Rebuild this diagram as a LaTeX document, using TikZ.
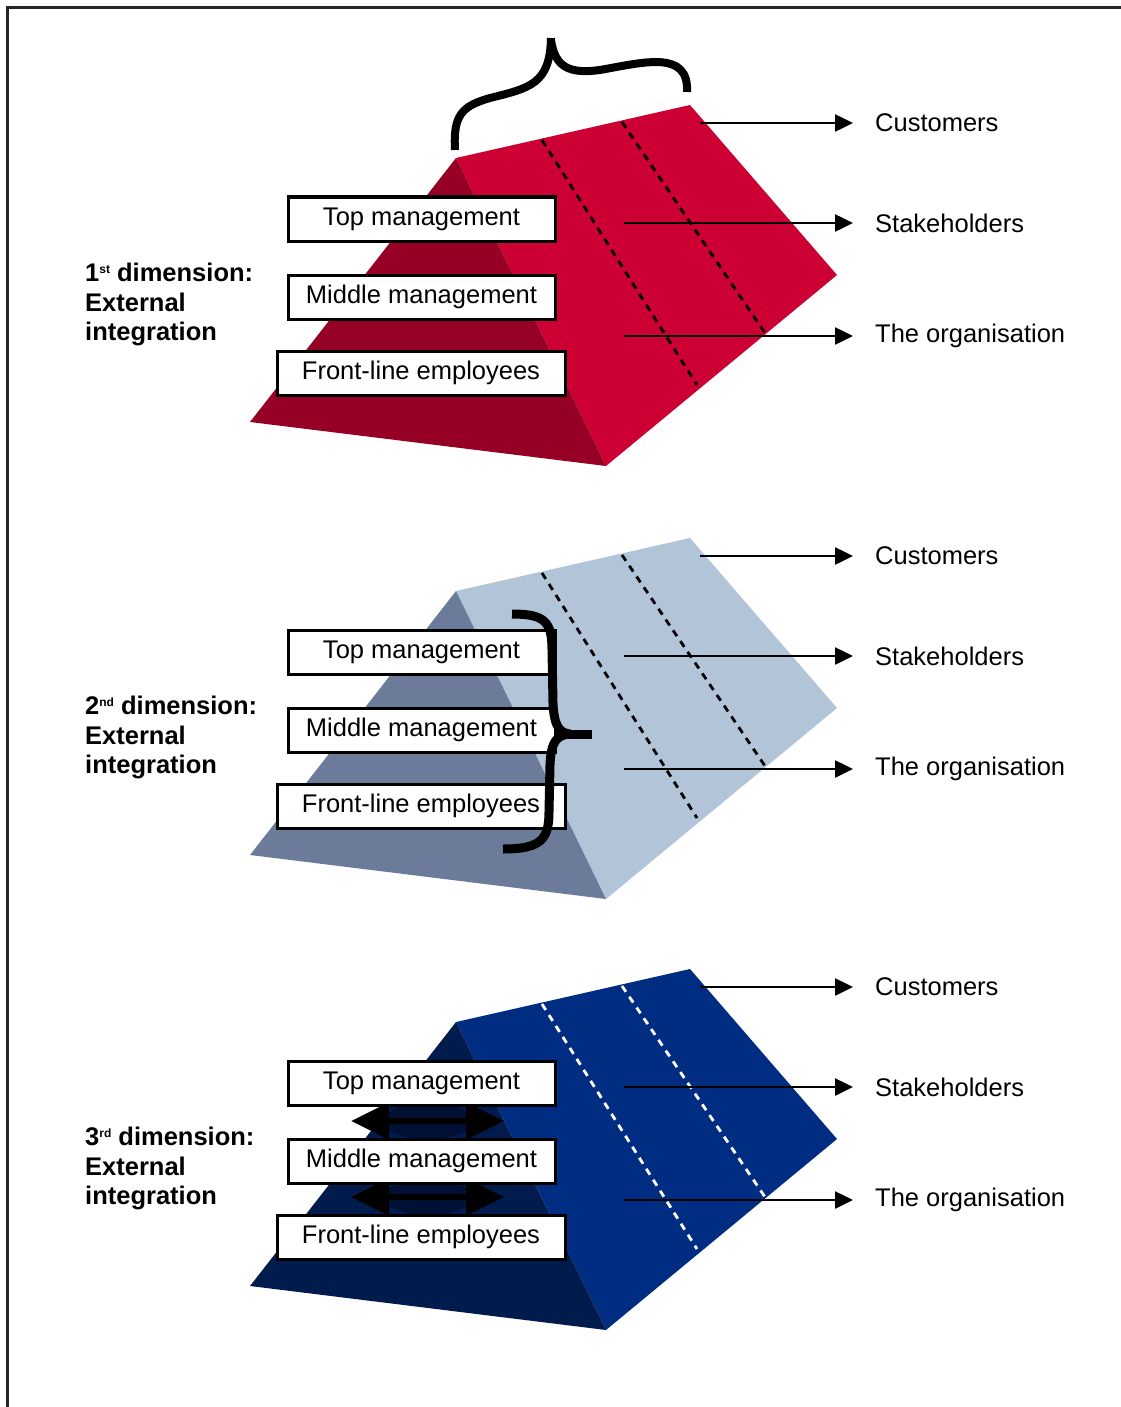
\documentclass[tikz,border=0pt]{standalone}
\usepackage{fontspec}
\setmainfont{Liberation Sans}
\usetikzlibrary{arrows.meta,calc}

\definecolor{redside}{RGB}{204,0,51}
\definecolor{redfront}{RGB}{150,0,36}
\definecolor{greyside}{RGB}{178,196,215}
\definecolor{greyfront}{RGB}{108,123,153}
\definecolor{navyside}{RGB}{0,45,130}
\definecolor{navyfront}{RGB}{0,27,76}
\definecolor{navydeep}{RGB}{0,16,52}

\tikzset{
  lvlbox/.style={draw=black, line width=3pt, fill=white, minimum height=44pt,
    inner sep=0pt, font=\fontsize{25.5}{29}\selectfont},
  outlabel/.style={anchor=west, inner sep=0pt, font=\fontsize{25.5}{29}\selectfont},
  dimlabel/.style={anchor=north west, inner sep=0pt, align=left,
    font=\bfseries\fontsize{25.5}{29.5}\selectfont},
  ridgeline/.style={line width=2.8pt, dash pattern=on 7pt off 6pt},
  outarrow/.style={line width=2.5pt, -{Triangle[length=18pt,width=17pt]}, shorten >=22pt},
  bracestroke/.style={line width=8pt, line cap=butt, line join=round},
  bothways/.style={line width=6pt, {Triangle[length=38pt,width=36pt]}-{Triangle[length=38pt,width=36pt]}},
  frameline/.style={line width=3pt, black!85},
}

\newcommand{\sups}[1]{\raisebox{8pt}{\fontsize{12}{12}\selectfont #1}}

% one prism with its three levels and the three outward arrows
% #1 vertical offset, #2 name prefix, #3 front colour, #4 side colour,
% #5 colour of the dashed lines, #6 ordinal of the dimension
\newcommand{\prismpanel}[6]{%
\begin{scope}[yshift=-#1pt]
  \fill[#4] (456,158) -- (690,105) -- (837,275) -- (606,466) -- cycle;
  \fill[#3] (456,158) -- (250,422) -- (606,466) -- cycle;
  \draw[ridgeline,#5] (542,140) -- (697,385);
  \draw[ridgeline,#5] (622,122) -- (765,333);
  \node[outlabel] (#2cust)  at (875,123) {Customers};
  \node[outlabel] (#2stake) at (875,223) {Stakeholders};
  \node[outlabel] (#2org)   at (875,336) {The organisation};
  \coordinate (#2cs) at (700,123);
  \coordinate (#2ss) at (624,223);
  \coordinate (#2os) at (624,336);
  \draw[outarrow] (#2cs) -- (#2cs -| #2cust.west);
  \draw[outarrow] (#2ss) -- (#2ss -| #2stake.west);
  \draw[outarrow] (#2os) -- (#2os -| #2org.west);
  \node[dimlabel] (#2dim) at (85,263) {#6 dimension:\\External\\integration};
\end{scope}}

\newcommand{\levelboxes}[2]{% #1 vertical offset, #2 name prefix
\begin{scope}[yshift=-#1pt]
  \node[lvlbox, minimum width=267pt] (#2top)   at (421.5,219) {Top management};
  \node[lvlbox, minimum width=267pt] (#2mid)   at (421.5,297) {Middle management};
  \node[lvlbox, minimum width=288pt] (#2front) at (421,373)   {Front-line employees};
\end{scope}}

\begin{document}
\begin{tikzpicture}[x=1pt,y=-1pt]
\useasboundingbox (0,0) rectangle (1120,1407);
\fill[white] (0,0) rectangle (1120,1407);
\draw[frameline] (7,1450) -- (7,8) -- (1160,8);

% first dimension
\prismpanel{0}{a}{redfront}{redside}{black}{1\sups{st}}
\levelboxes{0}{a}
\draw[bracestroke] (455,150) .. controls (453,115) and (462,106) .. (490,98)
  .. controls (530,88) and (550,84) .. (551,38);
\draw[bracestroke] (551,40) .. controls (555,68) and (570,74) .. (600,70)
  .. controls (645,62) and (689,50) .. (687,92);

% second dimension
\prismpanel{433}{b}{greyfront}{greyside}{black}{2\sups{nd}}
\levelboxes{433}{b}
\draw[bracestroke, line width=9pt] (512,614) .. controls (545,614) and (552,622) .. (552,650)
  -- (553,703) .. controls (554,727) and (560,733) .. (570,734);
\draw[bracestroke, line width=9pt] (503,849) .. controls (540,849) and (549,840) .. (549,812)
  -- (550,765) .. controls (551,741) and (557,735) .. (570,734);
\draw[bracestroke, line width=9pt] (560,734) -- (592,734);

% third dimension
\prismpanel{864}{c}{navyfront}{navyside}{white}{3\sups{rd}}
\fill[navydeep] (428,1121) ellipse [x radius=44, y radius=18];
\fill[navydeep] (428,1197) ellipse [x radius=44, y radius=18];
\coordinate (up1) at (351,1121);
\coordinate (up2) at (504,1121);
\coordinate (dn1) at (351,1197);
\coordinate (dn2) at (504,1197);
\draw[bothways] (up1) -- (up2);
\draw[bothways] (dn1) -- (dn2);
\levelboxes{864}{c}
\end{tikzpicture}
\end{document}
